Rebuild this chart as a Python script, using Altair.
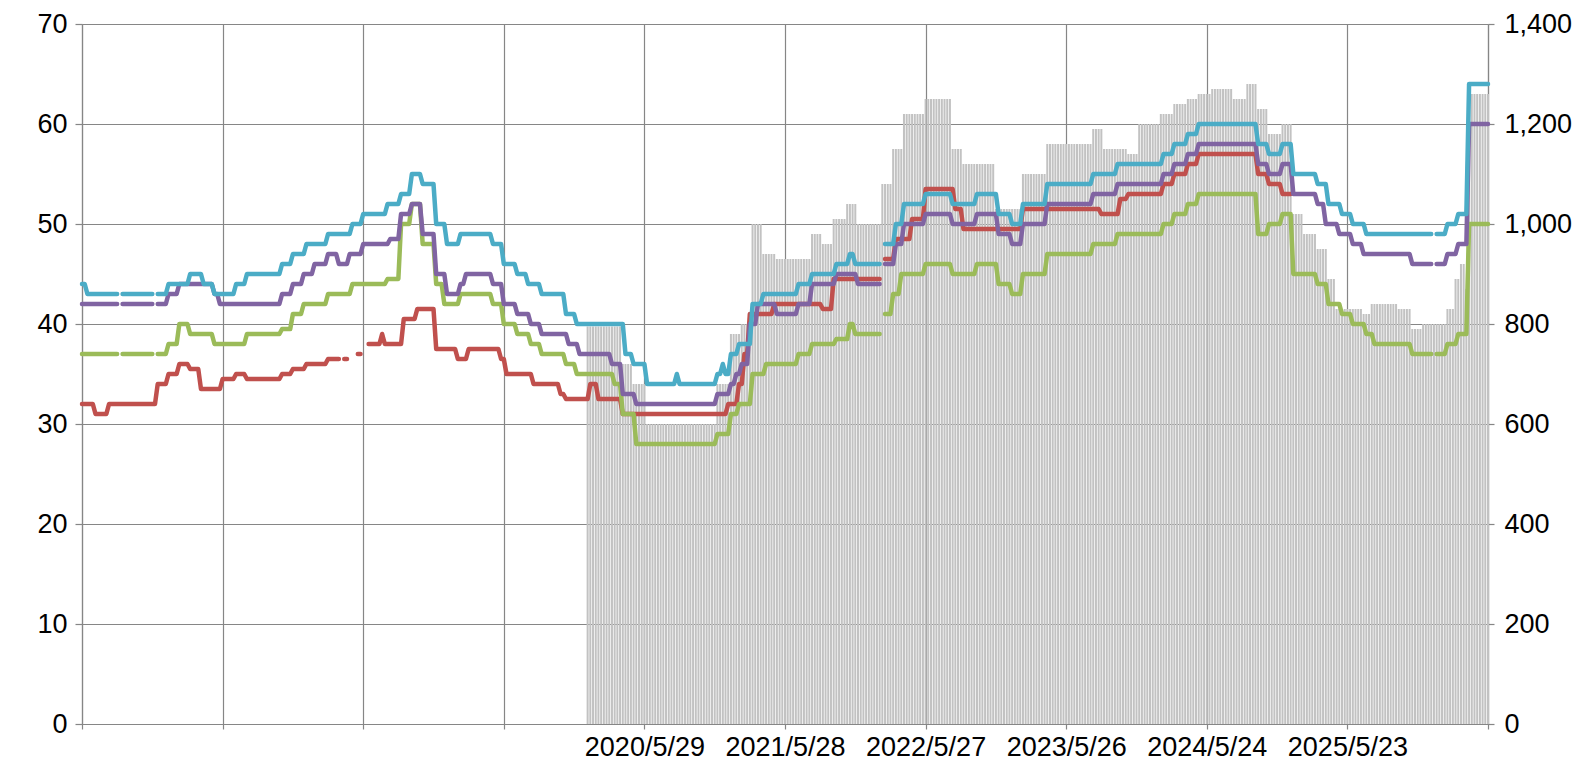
import altair as alt
import pandas as pd

# ---------------- axis definitions ----------------
tick_weeks = [0, 52, 104, 156, 208, 260, 312, 364, 416, 468, 520]
tick_labels = ["", "", "", "", "2020/5/29", "2021/5/28", "2022/5/27",
               "2023/5/26", "2024/5/24", "2025/5/23", ""]
left_ticks = [0, 10, 20, 30, 40, 50, 60, 70]
right_ticks = [0, 200, 400, 600, 800, 1000, 1200, 1400]

# ---------------- series (week index, value) change points ----------------
cyan_steps = [
    (0, 44), (2, 43), (32, 44), (40, 45), (45, 44), (49, 43), (57, 44), (61, 45),
    (74, 46), (78, 47), (83, 48), (91, 49), (100, 50), (104, 51), (113, 52),
    (118, 53), (122, 55), (126, 54), (131, 50), (135, 48), (140, 49), (152, 48),
    (156, 46), (161, 45), (165, 44), (170, 43), (179, 41), (183, 40), (201, 37),
    (204, 36), (209, 34), (220, 35), (221, 34), (235, 35), (237, 36), (238, 35),
    (240, 37), (243, 38), (248, 42), (252, 43), (265, 44), (270, 45), (279, 46),
    (284, 47), (286, 46),
    (297, 48), (301, 50), (304, 52), (312, 53), (322, 52), (331, 53), (339, 51),
    (344, 50), (348, 52), (357, 54), (374, 55), (383, 56), (400, 57), (404, 58),
    (409, 59), (413, 60), (435, 58), (439, 57), (444, 58), (448, 55), (457, 54),
    (461, 52), (466, 51), (470, 50), (475, 49), (505, 50), (509, 51), (513, 64)]
cyan_ranges = [(0, 295), (297, 520)]
cyan_gaps = [14, 27, 500]

purple_steps = [
    (0, 42), (32, 43), (36, 44), (49, 43), (51, 42), (74, 43), (78, 44), (82, 45),
    (86, 46), (91, 47), (95, 46), (99, 47), (104, 48), (114, 48.5), (118, 51),
    (122, 52), (126, 49), (131, 45), (135, 43), (140, 44), (142, 45), (152, 44),
    (156, 42), (161, 41), (166, 40), (170, 39), (180, 38), (184, 37), (196, 36),
    (200, 33), (205, 32), (235, 33), (240, 34), (242, 35), (244, 36), (247, 40),
    (250, 42), (257, 41), (265, 42), (270, 44), (279, 45), (287, 44),
    (297, 46), (301, 48), (304, 50), (312, 51), (322, 50), (331, 51), (339, 49),
    (344, 48), (348, 50), (357, 52), (374, 53), (383, 54), (400, 55), (404, 56),
    (409, 57), (413, 58), (435, 56), (439, 55), (444, 56), (448, 53), (457, 52),
    (460, 50), (465, 49), (470, 48), (474, 47), (492, 46), (505, 47), (509, 48),
    (513, 60)]
purple_ranges = [(0, 295), (297, 520)]
purple_gaps = [14, 27, 500]

green_steps = [
    (0, 37), (32, 38), (36, 40), (40, 39), (49, 38), (61, 39), (74, 39.5), (78, 41),
    (82, 42), (91, 43), (100, 44), (113, 44.5), (118, 50), (122, 52), (126, 48),
    (131, 44), (134, 42), (140, 43), (152, 42), (156, 40), (161, 39), (166, 38),
    (170, 37), (179, 36), (183, 35), (197, 34), (200, 31), (205, 28), (235, 29),
    (240, 31), (243, 32), (248, 35), (253, 36), (265, 37), (270, 38), (279, 38.5),
    (284, 40), (286, 39),
    (297, 41), (300, 43), (303, 45), (312, 46), (322, 45), (331, 46), (339, 44),
    (344, 43), (348, 45), (357, 47), (374, 48), (383, 49), (400, 50), (404, 51),
    (409, 52), (413, 53), (435, 49), (439, 50), (444, 51), (448, 45), (457, 44),
    (461, 42), (466, 41), (470, 40), (475, 39), (478, 38), (492, 37), (505, 38),
    (509, 39), (513, 50)]
green_ranges = [(0, 295), (297, 520)]
green_gaps = [14, 27, 500]

red_steps = [
    (0, 32), (5, 31), (10, 32), (28, 34), (32, 35), (36, 36), (40, 35.5), (44, 33.5),
    (52, 34.5), (57, 35), (61, 34.5), (74, 35), (78, 35.5), (83, 36), (91, 36.5),
    (102, 37), (106, 38), (111, 39), (112, 38), (119, 40.5), (124, 41.5),
    (131, 37.5), (139, 36.5), (143, 37.5), (155, 36.5), (157, 35), (167, 34),
    (177, 33), (179, 32.5), (188, 34), (191, 32.5), (200, 31), (239, 32), (243, 34),
    (245, 37), (247, 41), (256, 42), (274, 41.5), (278, 44.5),
    (297, 46.5), (301, 48.5), (307, 50.5), (312, 53.5), (323, 51.5), (326, 49.5),
    (348, 51.5), (377, 51), (384, 52.5), (387, 53), (400, 54), (404, 55),
    (409, 56), (413, 57), (435, 55), (439, 54), (444, 53)]
red_ranges = [(0, 95), (97, 98), (102, 103), (106, 295), (297, 447)]
red_gaps = []

bar_steps = [
    (187, 795), (200, 720), (204, 680), (209, 600), (235, 680), (240, 780),
    (244, 800), (248, 1000), (252, 940), (257, 930), (270, 980), (274, 960),
    (278, 1010), (283, 1040), (287, 1000), (296, 1080), (300, 1150), (304, 1220),
    (312, 1250), (322, 1150), (326, 1120), (338, 1030), (348, 1100), (357, 1160),
    (374, 1190), (378, 1150), (387, 1140), (391, 1200), (399, 1220), (404, 1240),
    (409, 1250), (413, 1260), (418, 1270), (426, 1250), (431, 1280), (435, 1230),
    (439, 1180), (444, 1200), (448, 1020), (452, 980), (457, 950), (461, 890),
    (464, 830), (474, 820), (477, 840), (487, 830), (492, 790), (496, 800),
    (505, 830), (508, 890), (510, 920), (512, 870), (513, 1260)]
bar_ranges = [(187, 520)]


def expand(steps, ranges, gaps=()):
    rows = []
    seg = 0
    for a, b in ranges:
        seg += 1
        for w in range(a, b + 1):
            if w in gaps:
                seg += 1
                continue
            v = None
            for s, val in steps:
                if s <= w:
                    v = val
            rows.append({"week": w, "value": v, "seg": seg})
    return pd.DataFrame(rows)


label_expr = " : ".join(
    f"datum.value == {w} ? '{t}'" for w, t in zip(tick_weeks, tick_labels) if t
) + " : ''"

x_enc = alt.X(
    "week:Q",
    scale=alt.Scale(domain=[0, 520], nice=False, zero=False, padding=0),
    axis=alt.Axis(values=tick_weeks, labelExpr=label_expr, title=None, grid=True,
                  tickSize=5, labelPadding=5, labelOverlap=False, labelFlush=False),
)

y_left = alt.Y(
    "value:Q",
    scale=alt.Scale(domain=[0, 70], nice=False, zero=True),
    axis=alt.Axis(values=left_ticks, grid=True, title=None, tickSize=7,
                  labelPadding=8),
)

bar_df = expand(bar_steps, bar_ranges).rename(columns={"value": "count"})
bars = alt.Chart(bar_df).mark_bar(width=2, color="#c2c2c2").encode(
    x=x_enc,
    y=alt.Y("count:Q",
            scale=alt.Scale(domain=[0, 1400], nice=False, zero=True),
            axis=alt.Axis(orient="right", values=right_ticks, format=",d",
                          grid=False, title=None, tickSize=6, labelPadding=10)),
)


def line_layer(steps, ranges, gaps, color):
    df = expand(steps, ranges, gaps)
    return alt.Chart(df).mark_line(
        color=color, strokeWidth=4.5, strokeCap="round", strokeJoin="round"
    ).encode(x=x_enc, y=y_left, detail="seg:N")


lines = alt.layer(
    line_layer(red_steps, red_ranges, red_gaps, "#C0504D"),
    line_layer(green_steps, green_ranges, green_gaps, "#9BBB59"),
    line_layer(purple_steps, purple_ranges, purple_gaps, "#8064A2"),
    line_layer(cyan_steps, cyan_ranges, cyan_gaps, "#4BACC6"),
)

chart = (
    alt.layer(bars, lines)
    .resolve_scale(y="independent")
    .properties(
        width=1406, height=700,
        autosize=alt.AutoSizeParams(type="none"),
        padding={"left": 74, "top": 16, "right": 85, "bottom": 38},
    )
    .configure_view(strokeWidth=0)
    .configure_axis(
        labelFont="Liberation Sans", labelFontSize=27, labelColor="#000000",
        domainColor="#868686", tickColor="#868686", gridColor="#868686",
        gridWidth=1.2, domainWidth=1.2, tickWidth=1.2,
    )
)

chart.save("out.html", embed_options={"renderer": "svg", "actions": False})
